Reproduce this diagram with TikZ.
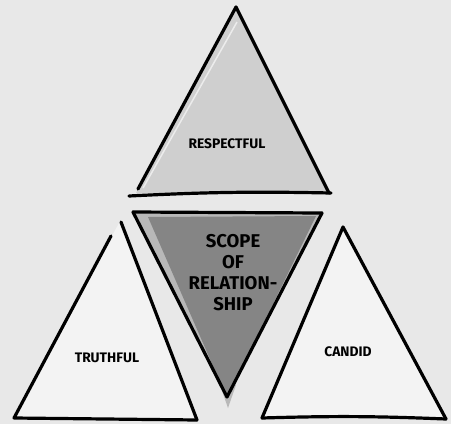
\documentclass[tikz,border=0pt]{standalone}
\usepackage{fontspec}
\setmainfont{Fira Sans}
\definecolor{paper}{HTML}{E8E8E8}
\definecolor{toptri}{HTML}{CFCFCF}
\definecolor{midtri}{HTML}{858585}
\definecolor{midedge}{HTML}{B8B8B8}
\definecolor{sidetri}{HTML}{F3F3F3}
\tikzset{
  ink/.style={line width=3.2pt, line cap=round, line join=round},
  tritext/.style={font=\bfseries\fontsize{13.8}{16}\selectfont},
  midtext/.style={font=\bfseries\fontsize{18.5}{21}\selectfont, align=center}
}

\begin{document}
\begin{tikzpicture}[x=1pt, y=-1pt]
\useasboundingbox (0,0) rectangle (451,424);
\fill[paper] (0,0) rectangle (451,424);
% top
\coordinate (ta) at (236,7);
\coordinate (tl) at (136,193);
\coordinate (tr) at (329,193);
\fill[toptri] (ta) -- (tl) -- (tr) -- cycle;
\draw[white!60!toptri, line width=1.5pt] (237,22) -- (143,188);
\draw[ink] (ta) -- (138,189);
\draw[ink] (ta) -- (tr);
\draw[ink] (129,196) to[bend left=2] (331,193);
\node[tritext] (respectful) at (227,144) {RESPECTFUL};
% middle
\coordinate (ml) at (133,212);
\coordinate (mr) at (322,213);
\coordinate (mb) at (227,397);
\fill[midedge] (ml) -- (mr) -- (mb) -- cycle;
\fill[midedge] (220,385) -- (236,385) -- (228,408) -- cycle;
\fill[midtri] (148,217) -- (316,216) -- (227,398) -- cycle;
\draw[ink] (ml) -- (mr);
\draw[ink] (ml) -- (mb) -- (mr);
\node[midtext] (scope) at (233,273) {SCOPE\\OF\\RELATION-\\SHIP};
% left
\coordinate (la) at (119,223);
\coordinate (ll) at (14,418);
\coordinate (lr) at (197,420);
\fill[sidetri] (la) -- (ll) -- (lr) -- cycle;
\draw[ink] (111,236) -- (ll) -- (lr);
\draw[ink] (121,222) -- (lr);
\node[tritext] (truthful) at (107,358) {TRUTHFUL};
% right
\coordinate (ra) at (343,227);
\coordinate (rl) at (262,418);
\coordinate (rr) at (446,419);
\fill[sidetri] (ra) -- (rl) -- (rr) -- cycle;
\draw[ink] (ra) -- (rl);
\draw[ink] (ra) -- (rr);
\draw[ink] (262,418) to[bend left=2] (rr);
\node[tritext] (candid) at (348,352) {CANDID};
\end{tikzpicture}
\end{document}
